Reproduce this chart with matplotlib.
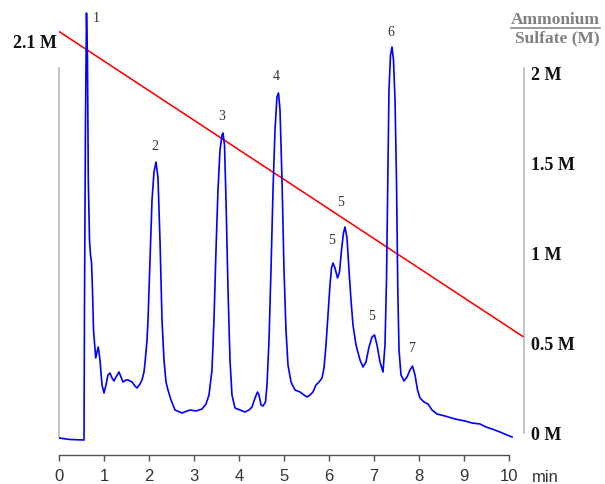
import matplotlib
matplotlib.use("Agg")
import matplotlib.pyplot as plt

# ---- data -------------------------------------------------------------
time_min = [0.0, 0.244, 0.556, 0.567, 0.589, 0.611, 0.633, 0.651, 0.678, 0.700,
            0.722, 0.744, 0.767, 0.816, 0.844, 0.873, 0.911, 0.956, 1.000, 1.044,
            1.089, 1.133, 1.178, 1.222, 1.267, 1.333, 1.378, 1.422, 1.489, 1.533,
            1.622, 1.689, 1.733, 1.800, 1.844, 1.889, 1.911, 1.956, 1.978, 2.022,
            2.067, 2.111, 2.156, 2.200, 2.244, 2.289, 2.333, 2.378, 2.422, 2.489,
            2.578, 2.733, 2.911, 3.044, 3.178, 3.267, 3.333, 3.400, 3.444, 3.489,
            3.533, 3.578, 3.622, 3.644, 3.678, 3.711, 3.756, 3.800, 3.844, 3.911,
            4.022, 4.133, 4.222, 4.289, 4.356, 4.411, 4.444, 4.489, 4.533, 4.589,
            4.622, 4.667, 4.711, 4.756, 4.800, 4.844, 4.878, 4.911, 4.956, 5.000,
            5.044, 5.089, 5.156, 5.244, 5.356, 5.444, 5.511, 5.578, 5.644, 5.711,
            5.778, 5.844, 5.889, 5.933, 5.978, 6.022, 6.056, 6.089, 6.133, 6.189,
            6.233, 6.278, 6.322, 6.356, 6.400, 6.444, 6.489, 6.533, 6.600, 6.689,
            6.756, 6.822, 6.889, 6.956, 7.011, 7.067, 7.133, 7.200, 7.244, 7.278,
            7.307, 7.333, 7.367, 7.400, 7.433, 7.467, 7.500, 7.529, 7.556, 7.600,
            7.667, 7.733, 7.800, 7.856, 7.911, 7.967, 8.022, 8.111, 8.200, 8.289,
            8.400, 8.578, 8.800, 9.022, 9.178, 9.356, 9.489, 9.622, 9.800, 9.956,
            10.067]
absorbance = [2, 0.5, 0, 140, 320, 427, 380, 260, 200, 185,
              178, 150, 110, 82, 88, 93, 80, 55, 47, 55,
              65, 67, 62, 59, 63, 68, 63, 58, 60, 60,
              58, 54, 52, 56, 60, 68, 77, 100, 120, 180,
              240, 268, 278, 262, 200, 120, 80, 58, 50, 40,
              30, 27, 30, 29, 31, 36, 45, 70, 120, 190,
              250, 290, 305, 307, 295, 240, 150, 80, 45, 32,
              30, 28, 30, 33, 42, 48, 45, 35, 34, 38,
              55, 100, 170, 250, 310, 343, 347, 330, 260, 170,
              110, 75, 58, 50, 48, 45, 43, 45, 48, 55,
              58, 62, 72, 95, 125, 155, 172, 177, 172, 162,
              168, 190, 207, 213, 202, 170, 140, 115, 95, 80,
              73, 78, 93, 103, 105, 95, 78, 68, 95, 160,
              260, 350, 385, 393, 380, 340, 260, 150, 90, 65,
              59, 63, 70, 74, 65, 50, 42, 38, 36, 30,
              26, 24, 21, 19, 17, 16, 13, 11, 8, 5,
              3]

gradient_time = [0.0, 10.31]
gradient_conc = [2.23, 0.54]

x_ticks = [0, 1, 2, 3, 4, 5, 6, 7, 8, 9, 10]
conc_ticks = [0, 0.5, 1, 1.5, 2]
conc_labels = ["0 M", "0.5 M", "1 M", "1.5 M", "2 M"]

peak_labels = ["1", "2", "3", "4", "5", "5", "5", "6", "7"]
peak_label_t = [0.835, 2.133, 3.622, 4.822, 6.26, 6.06, 6.956, 7.378, 7.844]
peak_label_a = [421, 294, 323, 363, 237, 199, 124, 408, 91]

# ---- figure -----------------------------------------------------------
W, H = 605, 484
fig = plt.figure(figsize=(W / 100, H / 100), dpi=100)

left_px, right_px = 59, 524
bottom_px, top_px = 455, 5
rect = [left_px / W, (H - bottom_px) / H, (right_px - left_px) / W, (bottom_px - top_px) / H]

ax = fig.add_axes(rect)
ax2 = fig.add_axes(rect, sharex=ax)
ax2.patch.set_visible(False)

# scales: M axis (red gradient) and absorbance axis (blue trace)
ax.set_xlim(0, (right_px - left_px) / 45.0)
ax.set_ylim((434 - bottom_px) / 180.5, (434 - top_px) / 180.5)
ax2.set_ylim(440 - bottom_px, 440 - top_px)

serif = ["Liberation Serif", "DejaVu Serif"]
sans = ["Liberation Sans", "DejaVu Sans"]

ax.plot(gradient_time, gradient_conc, color="#ff0000", lw=1.15, zorder=3)
ax2.plot(time_min, absorbance, color="#0000ff", lw=1.2, zorder=2)

# spines
for s in ["top"]:
    ax.spines[s].set_visible(False)
for s in ax2.spines.values():
    s.set_visible(False)
ax.spines["left"].set_bounds(-0.017, 2.03)
ax.spines["left"].set_color("#b4b4b4")
ax.spines["left"].set_linewidth(1.1)
ax.spines["right"].set_bounds(0.005, 2.03)
ax.spines["right"].set_color("#b4b4b4")
ax.spines["right"].set_linewidth(1.1)
ax.spines["bottom"].set_bounds(0, 10)
ax.spines["bottom"].set_color("#505050")
ax.spines["bottom"].set_linewidth(1.0)

ax.set_xticks(x_ticks)
ax.set_xticklabels([str(v) for v in x_ticks], fontfamily=sans, fontsize=12, color="#333333")
ax.tick_params(axis="x", direction="out", length=4, width=1, color="#505050", pad=6)

ax.yaxis.tick_right()
ax.set_yticks(conc_ticks)
ax.set_yticklabels(conc_labels, fontfamily=serif, fontsize=13, fontweight="bold", color="#111111")
ax.tick_params(axis="y", length=0, pad=5)
ax2.tick_params(left=False, right=False, bottom=False, labelleft=False,
                labelright=False, labelbottom=False)

ax.text(545 / W, (H - 477) / H, "min", transform=fig.transFigure, ha="center", va="center",
        fontfamily=sans, fontsize=12, color="#333333")

fig.text(57 / W, 1 - 44 / H, "2.1 M", ha="right", va="center", fontfamily=serif,
         fontsize=13, fontweight="bold", color="#111111")
fig.text(600 / W, 1 - 20 / H, "Ammonium", ha="right", va="center", fontfamily=serif,
         fontsize=12.5, fontweight="bold", color="#808080")
fig.add_artist(plt.Line2D([511 / W, 600 / W], [1 - 27.5 / H, 1 - 27.5 / H],
                          color="#808080", lw=1.1))
fig.text(600 / W, 1 - 38 / H, "Sulfate (M)", ha="right", va="center", fontfamily=serif,
         fontsize=12.5, fontweight="bold", color="#808080")

for lab, t, a in zip(peak_labels, peak_label_t, peak_label_a):
    ax2.text(t, a, lab, ha="center", va="center", fontfamily=serif, fontsize=10,
             color="#333333")

fig.savefig("out.png", dpi=100)
